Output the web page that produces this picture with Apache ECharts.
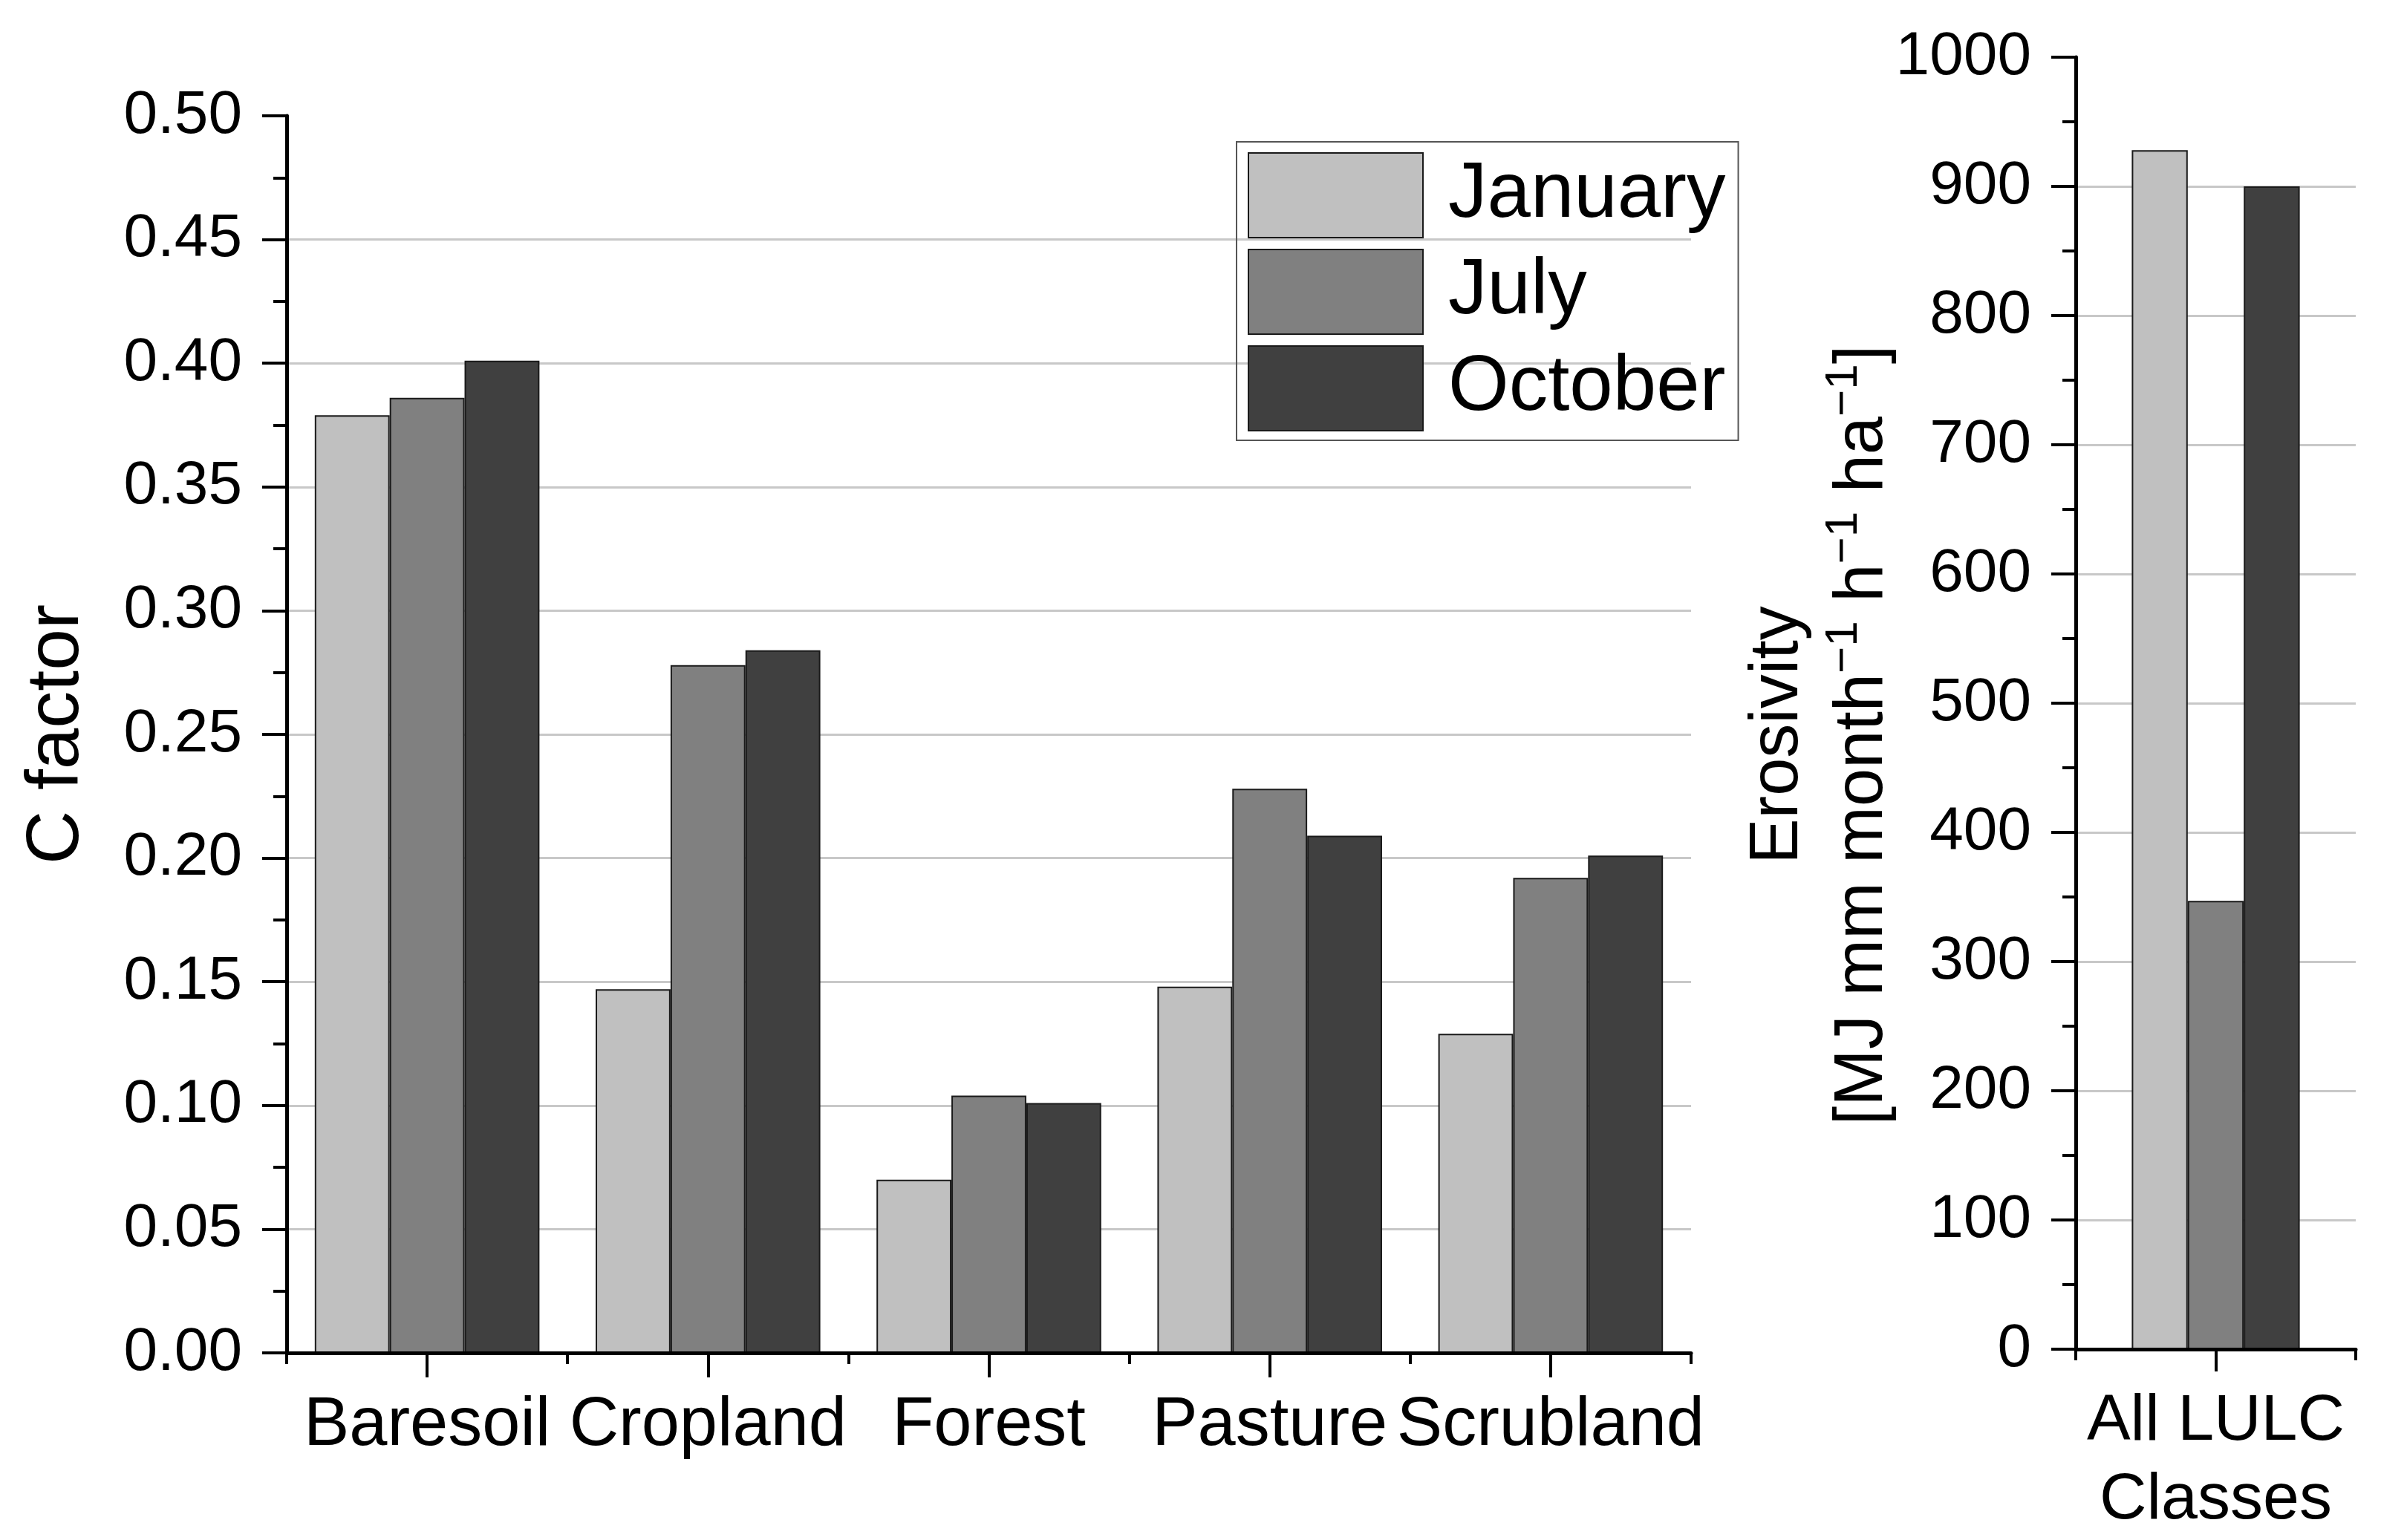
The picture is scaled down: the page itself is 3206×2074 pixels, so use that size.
<!DOCTYPE html>
<html><head><meta charset="utf-8">
<script src="https://cdn.jsdelivr.net/npm/echarts@6/dist/echarts.min.js"></script>
<style>html,body{margin:0;padding:0;background:#fff}#c{width:3206px;height:2074px}</style>
</head><body><div id="c"></div>
<script>
// ---- data ----
const categories = ['Baresoil', 'Cropland', 'Forest', 'Pasture', 'Scrubland'];
const cFactorJanuary = [0.379, 0.147, 0.070, 0.148, 0.129];
const cFactorJuly = [0.386, 0.278, 0.104, 0.228, 0.192];
const cFactorOctober = [0.401, 0.284, 0.101, 0.209, 0.201];
const erosivityCategory = ['All LULC\nClasses'];
const erosivityJanuary = [928];
const erosivityJuly = [347];
const erosivityOctober = [900];
const seriesNames = ['January', 'July', 'October'];
const seriesColors = ['#c0c0c0', '#808080', '#404040'];

const FONT = "'Liberation Sans', Arial, sans-serif";
const chart = echarts.init(document.getElementById('c'), null, {renderer: 'canvas'});

const axisLineStyle = {color: '#000', width: 5};
const tickStyle = {color: '#000', width: 4};
const gridLineStyle = {color: '#c8c8c8', width: 3};

function valueAxis(gridIndex, min, max, interval, fmt, name, nameGap, nameStyle) {
  return {
    type: 'value', gridIndex, min, max, interval,
    name, nameLocation: 'middle', nameGap, nameRotate: 90,
    nameMoveOverlap: false,
    nameTextStyle: nameStyle,
    axisLine: {show: true, lineStyle: axisLineStyle},
    axisTick: {show: true, length: 33, lineStyle: tickStyle},
    minorTick: {show: true, splitNumber: 2, length: 18, lineStyle: tickStyle},
    splitLine: {show: true, showMinLine: false, showMaxLine: false, lineStyle: gridLineStyle},
    minorSplitLine: {show: false},
    axisLabel: {fontSize: 82, fontFamily: FONT, color: '#000', margin: 60, formatter: fmt}
  };
}
function catAxis(gridIndex, data, labelFont, labelLH, margin, centerTickLen) {
  return {
    type: 'category', gridIndex, data, position: 'bottom', z: 10,
    axisLine: {show: true, lineStyle: axisLineStyle},
    axisTick: {show: true, alignWithLabel: true, length: centerTickLen, lineStyle: tickStyle},
    axisLabel: {fontSize: labelFont, lineHeight: labelLH, fontFamily: FONT, color: '#000', margin, interval: 0},
    splitLine: {show: false}
  };
}
function boundaryAxis(gridIndex, data) {
  return {
    type: 'category', gridIndex, data, position: 'bottom', z: 10,
    axisLine: {show: false},
    axisTick: {show: true, interval: 0, length: 15, lineStyle: tickStyle},
    axisLabel: {show: false},
    splitLine: {show: false}
  };
}
function barSeries(i, data, xAxisIndex, yAxisIndex, catGap) {
  return {
    type: 'bar', name: seriesNames[i], data, xAxisIndex, yAxisIndex,
    barGap: '0%', barCategoryGap: catGap,
    itemStyle: {color: seriesColors[i], borderColor: '#1a1a1a', borderWidth: 2},
    emphasis: {disabled: true}
  };
}

const option = {
  backgroundColor: '#fff',
  animation: false,
  textStyle: {fontFamily: FONT},
  grid: [
    {left: 386, top: 156, width: 1891, height: 1666, containLabel: false},
    {left: 2795, top: 77, width: 377, height: 1740, containLabel: false}
  ],
  legend: {
    data: seriesNames, left: 1665, top: 191, orient: 'vertical',
    itemWidth: 235, itemHeight: 114, itemGap: 14,
    padding: [14, 17, 12, 15], borderColor: '#555', borderWidth: 2,
    icon: 'rect', selectedMode: false,
    textStyle: {fontSize: 105, fontFamily: FONT, color: '#000', padding: [0, 0, 0, 29]}
  },
  xAxis: [
    catAxis(0, categories, 92, 92, 53, 33),
    boundaryAxis(0, categories),
    catAxis(1, erosivityCategory, 88, 106, 45, 30),
    boundaryAxis(1, erosivityCategory)
  ],
  yAxis: [
    valueAxis(0, 0, 0.5, 0.05, v => v.toFixed(2), 'C factor', 259,
      {fontSize: 100, lineHeight: 100, fontFamily: FONT, color: '#000'}),
    valueAxis(1, 0, 1000, 100, v => String(v),
      'Erosivity\n[MJ mm month{sup|\u22121} h{sup|\u22121} ha{sup|\u22121}]', 229,
      {fontSize: 92, lineHeight: 114, fontFamily: FONT, color: '#000', padding: [0, 86, 0, 0],
       rich: {sup: {fontSize: 62, lineHeight: 60, verticalAlign: 'top', fontFamily: FONT, color: '#000'}}})
  ],
  series: [
    barSeries(0, cFactorJanuary, 0, 0, '20%'),
    barSeries(1, cFactorJuly, 0, 0, '20%'),
    barSeries(2, cFactorOctober, 0, 0, '20%'),
    barSeries(0, erosivityJanuary, 2, 1, '40%'),
    barSeries(1, erosivityJuly, 2, 1, '40%'),
    barSeries(2, erosivityOctober, 2, 1, '40%')
  ]
};
chart.setOption(option);
</script>
</body></html>
